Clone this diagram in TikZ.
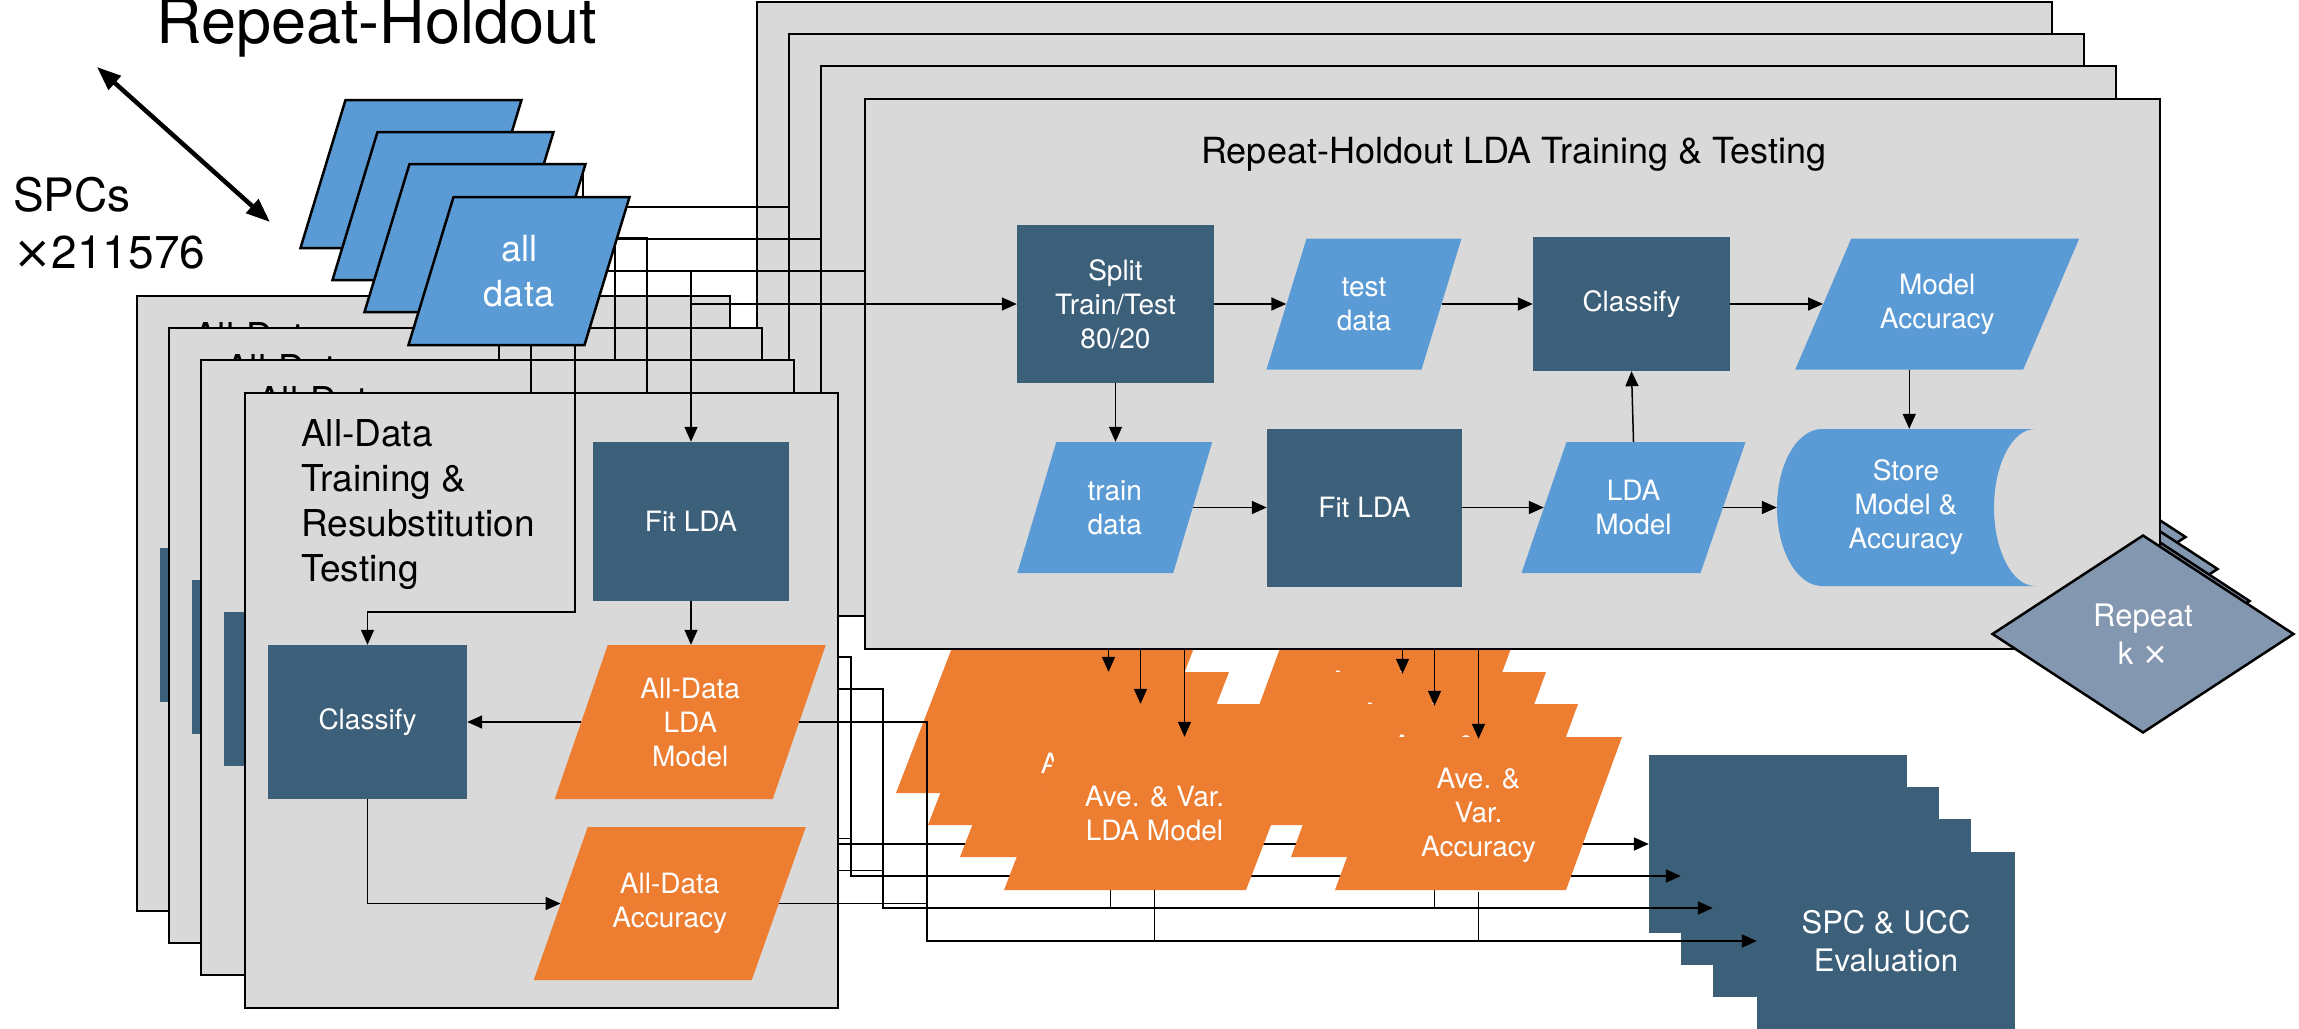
\documentclass[tikz,border=0pt]{standalone}
\usepackage{fontspec}
\setmainfont{TeX Gyre Heros}
\newfontfamily\timesfont{DejaVu Sans}
\usetikzlibrary{arrows.meta,shapes.geometric}
\definecolor{cgray}{HTML}{D9D9D9}
\definecolor{cblue}{HTML}{5B9BD5}
\definecolor{cdark}{HTML}{3C5F7A}
\definecolor{corange}{HTML}{ED7D31}
\definecolor{cdiam}{HTML}{8497B0}
\newcommand\tms{{\timesfont ×}}
\tikzset{
  panelbox/.style={rectangle, draw=black, fill=cgray, line width=2.5pt, inner sep=0pt},
  wtxt/.style={text=white, align=center, inner sep=0pt, font=\fontsize{28}{34}\selectfont},
  dbox/.style={wtxt, rectangle, fill=cdark},
  ttl/.style={text=black, inner sep=0pt, font=\fontsize{37}{45}\selectfont},
  arr/.style={line width=1.5pt, -{Triangle[length=15pt,width=13pt]}},
  busline/.style={line width=1.8pt},
  diam/.style={diamond, draw=black, line width=2.5pt, fill=cdiam, text=white, align=center,
    inner sep=0pt, minimum width=302pt, minimum height=198pt, aspect=1.525,
    font=\fontsize{31}{38}\selectfont}
}
% parallelogram: name, cx, cy, mid width, height, half slant, path style, node style, text
\newcommand\paral[9]{%
  \path[#7] ({#2-#4/2-#6},{#3+#5/2}) -- ({#2+#4/2-#6},{#3+#5/2}) -- ({#2+#4/2+#6},{#3-#5/2}) -- ({#2-#4/2+#6},{#3-#5/2}) -- cycle;
  \node[#8, minimum width=#4, minimum height=#5] (#1) at (#2,#3) {#9};}
\newcommand\onecopy[3]{%
\begin{scope}[shift={(#2,#3)}]
  % ---- left panel
  \node[panelbox, minimum width=593, minimum height=615] (lp#1) at (541.5,700.5) {};
  \node[ttl, anchor=north west, align=left] (lt#1) at (301,419) {All-Data\\Training \&\\Resubstitution\\Testing};
  \node[dbox, minimum width=196, minimum height=159] (fa#1) at (691,521.5) {Fit LDA};
  \node[dbox, minimum width=199, minimum height=154] (ca#1) at (367.5,722) {Classify};
  \paral{am#1}{690.25}{722}{218}{154}{26.5}{fill=corange}{wtxt}{All-Data\\LDA\\Model}
  \paral{aa#1}{669.75}{903.5}{218}{153}{27}{fill=corange}{wtxt}{All-Data\\Accuracy}
  \draw[arr] (fa#1.south) -- (fa#1.south |- am#1.north);
  \draw[arr] (am#1.west) -- (ca#1.east);
  \draw[arr] (ca#1.south) |- (aa#1.west);
  % ---- right panel
  \node[panelbox, minimum width=1295, minimum height=550] (rp#1) at (1512.5,374) {};
  \node[ttl, anchor=base, font=\fontsize{36}{44}\selectfont] (rt#1) at (1514,163) {Repeat-Holdout LDA Training \& Testing};
  \node[dbox, minimum width=197, minimum height=158] (sp#1) at (1115.5,304) {Split\\Train/Test\\80/20};
  \paral{td#1}{1364}{304}{155}{131}{20}{fill=cblue}{wtxt}{test\\data}
  \node[dbox, minimum width=197, minimum height=134] (cb#1) at (1631.5,304) {Classify};
  \paral{ma#1}{1937.25}{304}{228}{131}{28}{fill=cblue}{wtxt}{Model\\Accuracy}
  \paral{tr#1}{1114.75}{507.5}{156}{131}{19.5}{fill=cblue}{wtxt}{train\\data}
  \node[dbox, minimum width=195, minimum height=158] (fb#1) at (1364.5,507.5) {Fit LDA};
  \paral{lm#1}{1633.5}{507.5}{179}{131}{22.5}{fill=cblue}{wtxt}{LDA\\Model}
  \fill[cblue] (1822,429) -- (2035,429) arc[start angle=90,end angle=270,x radius=41pt,y radius=78.5pt]
     -- (1822,586) arc[start angle=270,end angle=90,x radius=45pt,y radius=78.5pt] -- cycle;
  \node[wtxt, minimum width=258, minimum height=157] (st#1) at (1906,507.5) {Store\\Model \&\\Accuracy};
  \draw[arr] (sp#1.east) -- (td#1.west);
  \draw[arr] (td#1.east) -- (cb#1.west);
  \draw[arr] (cb#1.east) -- (ma#1.west);
  \draw[arr] (sp#1.south) -- (sp#1.south |- tr#1.north);
  \draw[arr] (tr#1.east) -- (fb#1.west);
  \draw[arr] (fb#1.east) -- (lm#1.west);
  \draw[arr] (lm#1.east) -- (st#1.west);
  \draw[arr] (lm#1.north) -- (cb#1.south);
  \draw[arr] ([xshift=-28pt]ma#1.south) -- ([xshift=-28pt]ma#1.south |- st#1.north);
  \node[diam] (rk#1) at (2143,634) {Repeat\\k \tms};
  % ---- all data
  \paral{ad#1}{519}{271}{176}{148}{22.5}{fill=cblue,draw=black,line width=2.5pt}{wtxt,font=\fontsize{36}{45}\selectfont}{all\\data}
  \coordinate (cj#1) at (575,612);
  \draw[arr] (ad#1.east) -| (fa#1.north);
  \draw[arr] (fa#1.north |- sp#1.west) -- (sp#1.west);
  \draw[arr] ([xshift=56pt]ad#1.south) -- (cj#1) -| (ca#1.north);
  % ---- averaged outputs
  \paral{vm#1}{1154.5}{813.5}{242}{153}{29.5}{fill=corange}{wtxt}{Ave. \& Var.\\LDA Model}
  \paral{va#1}{1478.5}{813.5}{231}{153}{28}{fill=corange}{wtxt,yshift=-2pt}{Ave. \&\\Var.\\Accuracy}
  \draw[arr] ([xshift=30pt]vm#1.north |- rp#1.south) -- ([xshift=30pt]vm#1.north);
  \draw[arr] (va#1.north |- rp#1.south) -- (va#1.north);
  % ---- evaluation
  \node[dbox, minimum width=258, minimum height=178, font=\fontsize{31}{38}\selectfont] (ev#1) at (1886,941) {SPC \& UCC\\Evaluation};
  \coordinate (bu#1) at (927,941);
  \draw[arr, busline] (am#1.east) -| (bu#1) -- (ev#1.west);
  \draw[busline] (aa#1.east) -- (aa#1.east -| bu#1);
  \draw[busline] (vm#1.south) -- (vm#1.south |- bu#1);
  \draw[busline] (va#1.south) -- (va#1.south |- bu#1);
\end{scope}}
\begin{document}
\begin{tikzpicture}[x=1pt,y=-1pt]
\useasboundingbox (0,0) rectangle (2299,1028);
\node[anchor=base west, inner sep=0pt, font=\fontsize{63}{70}\selectfont] (title) at (156,43) {Repeat-Holdout};
\node[anchor=north west, align=left, inner sep=0pt, font=\fontsize{46}{57}\selectfont] (spcs) at (13,177) {SPCs\\\tms211576};
\coordinate (da1) at (97,67);
\coordinate (da2) at (270,222);
\draw[line width=4.5pt, {Triangle[length=24pt,width=18pt]}-{Triangle[length=24pt,width=18pt]}] (da1) -- (da2);
\onecopy{1}{-108}{-97}
\onecopy{2}{-76}{-65}
\onecopy{3}{-44}{-33}
\onecopy{4}{0}{0}
\end{tikzpicture}
\end{document}
